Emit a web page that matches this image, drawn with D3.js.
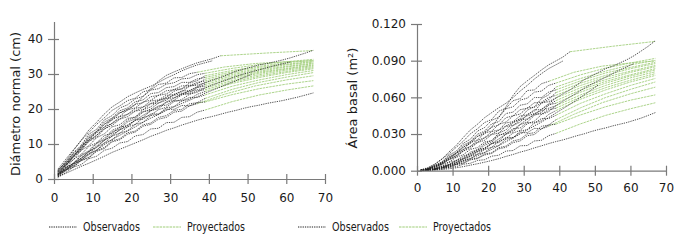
<!DOCTYPE html>
<html>
<head>
<meta charset="utf-8">
<script src="https://cdn.jsdelivr.net/npm/d3@7"></script>
<style>
  html, body { margin: 0; padding: 0; background: #fff; }
  svg { display: block; font-family: 'DejaVu Sans', Verdana, sans-serif; }
</style>
</head>
<body>
<svg id="chart" width="683" height="241"></svg>
<script>
// ages (years) at which the observed diameters were read
const obsAges = [1, 3, 5, 7, 9, 11, 13, 15, 17, 19, 21, 23, 25, 27, 29, 31, 33, 35, 37, 39,
  41, 43, 45, 47, 49, 51, 53, 55, 57, 59, 61, 63, 65, 67]

// observed diameter (cm) per tree, one value per obsAges entry
const observedDiam = [
  [1.5, 3.8, 6.5, 9.0, 11.5, 13.6, 15.6, 17.3, 18.9, 20.0, 21.3, 23.6, 25.8, 28.0, 29.6, 30.6, 31.5, 32.4, 33.2, 33.8, 34.4, 35.2],
  [2.2, 5.0, 8.1, 11.0, 14.0, 16.2, 18.6, 20.6, 22.0, 23.5, 24.6, 25.6, 26.5, 27.6, 28.8, 29.8, 30.9, 31.8, 32.6, 33.2, 33.8],
  [1.1, 2.8, 4.4, 6.0, 7.7, 9.4, 11.0, 12.7, 14.0, 15.4, 16.8, 18.2, 19.5, 20.6, 22.0, 23.1, 24.2, 25.3, 26.4, 27.5,
    28.3, 29.0, 29.9, 30.8, 31.4, 32.0, 32.6, 33.0, 33.5, 34.0, 34.6, 35.3, 36.0, 36.8],
  [1.6, 3.9, 6.2, 8.6, 10.7, 12.5, 14.3, 15.9, 17.2, 18.5, 19.5, 20.5, 21.6, 22.4, 23.1, 23.9, 24.4, 25.0, 25.5, 26.0,
    26.9, 27.7, 28.5, 29.3, 30.0, 30.6, 31.2, 31.8, 32.4, 32.9, 33.4],
  [1.0, 2.5, 3.9, 5.4, 6.9, 8.3, 9.8, 11.3, 12.5, 13.7, 14.9, 16.2, 17.4, 18.4, 19.6, 20.6, 21.6, 22.5, 23.5, 24.5,
    25.4, 26.3, 27.2, 28.1, 29.0, 29.9],
  [0.6, 1.6, 2.6, 3.6, 4.5, 5.5, 6.5, 7.6, 8.5, 9.4, 10.3, 11.2, 12.2, 13.0, 13.9, 14.6, 15.4, 16.1, 16.8, 17.4,
    17.9, 18.5, 19.1, 19.6, 20.2, 20.7, 21.1, 21.6, 22.0, 22.4, 22.9, 23.4, 24.0, 24.6],
  [1.8, 4.2, 7.5, 9.6, 12.8, 14.2, 16.9, 18.1, 20.3, 21.2, 22.9, 23.6, 25.4, 25.8, 27.1, 27.5, 28.6, 28.8, 29.8, 30.2],
  [1.2, 3.2, 4.5, 6.8, 8.1, 10.3, 11.6, 13.9, 14.8, 16.8, 17.7, 19.8, 20.6, 22.4, 23.3, 25.1, 25.8, 27.4, 28.1, 29.5],
  [2.4, 4.9, 7.3, 9.2, 12.2, 13.6, 16.3, 17.4, 19.5, 20.3, 22.1, 22.6, 24.4, 24.7, 26.1, 26.4, 27.6, 27.6, 28.6, 29.0],
  [1.5, 3.3, 4.4, 6.6, 7.8, 10.1, 11.2, 13.4, 14.3, 16.3, 17.2, 19.1, 20.0, 21.7, 22.5, 24.2, 24.9, 26.5, 27.2, 28.5],
  [1.3, 3.9, 6.9, 8.8, 11.8, 13.1, 15.7, 16.8, 18.9, 19.6, 21.3, 21.8, 23.5, 23.9, 25.2, 25.5, 26.6, 26.7, 27.6, 28.0],
  [2.0, 4.5, 6.3, 9.4, 11.0, 13.5, 14.8, 17.1, 17.9, 19.8, 20.3, 22.0, 22.5, 23.9, 24.3, 25.6, 25.7, 26.6, 26.8, 27.5],
  [0.8, 2.5, 4.6, 5.7, 7.9, 9.0, 11.1, 12.2, 14.1, 14.9, 16.8, 17.6, 19.5, 20.1, 21.9, 22.5, 24.0, 24.6, 26.1, 27.0],
  [2.6, 4.6, 6.8, 8.4, 11.2, 12.4, 14.9, 15.9, 17.8, 18.5, 20.2, 20.6, 22.3, 22.6, 23.9, 24.1, 25.2, 25.2, 26.2, 26.5],
  [1.4, 2.9, 4.0, 6.0, 7.1, 9.1, 10.2, 12.3, 13.1, 14.9, 15.6, 17.5, 18.3, 19.8, 20.5, 22.1, 22.7, 24.2, 24.8, 26.0],
  [1.1, 3.5, 6.4, 8.1, 10.8, 11.9, 14.3, 15.3, 17.1, 17.8, 19.4, 19.8, 21.5, 21.7, 23.0, 23.2, 24.3, 24.3, 25.2, 25.5],
  [0.7, 2.3, 4.3, 5.3, 7.3, 8.2, 10.3, 11.2, 13.1, 13.8, 15.6, 16.2, 18.1, 18.5, 20.3, 20.7, 22.3, 22.8, 24.2, 25.0],
  [2.1, 4.1, 5.5, 8.2, 9.5, 11.8, 12.9, 14.9, 15.5, 17.3, 17.7, 19.3, 19.6, 20.9, 21.1, 22.4, 22.3, 23.3, 23.3, 24.0],
  [1.2, 2.6, 3.5, 5.4, 6.2, 8.1, 9.0, 10.9, 11.5, 13.2, 13.7, 15.5, 16.0, 17.6, 18.1, 19.6, 19.9, 21.5, 21.8, 23.0],
  [1.0, 3.0, 5.6, 7.0, 9.3, 10.3, 12.4, 13.1, 14.8, 15.3, 16.8, 17.1, 18.6, 18.6, 19.9, 19.9, 21.0, 20.9, 21.8, 22.0],
  [0.5, 1.8, 3.4, 4.1, 5.8, 6.5, 8.2, 8.8, 10.3, 10.7, 12.3, 12.7, 14.3, 14.5, 16.1, 16.2, 17.6, 17.8, 19.1, 19.7],
  [2.8, 5.6, 8.3, 11.0, 13.3, 15.6, 17.5, 19.6, 20.9, 22.4, 23.1, 24.9, 25.5, 27.0, 27.4, 28.9, 29.0, 30.1, 30.5],
  [1.3, 2.5, 3.4, 5.2, 6.0, 7.9, 8.7, 10.6, 11.2, 12.8, 13.4, 15.1, 15.6, 17.1, 17.6, 19.1, 19.4, 20.9, 21.5]
]

// projected diameter (cm): [age, diameter] from the last observation to age 67
const projected = [
  [[43, 35.2], [55, 36.0], [67, 36.7]],
  [[39, 30.2], [46, 31.6], [53, 32.7], [60, 33.5], [67, 34.2]],
  [[39, 29.5], [46, 31.0], [53, 32.2], [60, 33.2], [67, 33.9]],
  [[39, 29.0], [46, 30.6], [53, 31.9], [60, 32.8], [67, 33.6]],
  [[39, 28.5], [46, 30.2], [53, 31.5], [60, 32.6], [67, 33.4]],
  [[39, 28.0], [46, 29.8], [53, 31.2], [60, 32.2], [67, 33.1]],
  [[39, 27.5], [46, 29.4], [53, 30.8], [60, 32.0], [67, 32.9]],
  [[39, 27.0], [46, 29.0], [53, 30.5], [60, 31.6], [67, 32.6]],
  [[39, 26.5], [46, 28.6], [53, 30.2], [60, 31.4], [67, 32.4]],
  [[39, 26.0], [46, 28.1], [53, 29.8], [60, 31.1], [67, 32.1]],
  [[39, 25.5], [46, 27.7], [53, 29.4], [60, 30.7], [67, 31.8]],
  [[39, 25.0], [46, 27.3], [53, 29.0], [60, 30.4], [67, 31.5]],
  [[39, 24.0], [46, 26.5], [53, 28.3], [60, 29.8], [67, 31.0]],
  [[39, 23.0], [46, 25.6], [53, 27.6], [60, 29.1], [67, 30.4]],
  [[39, 22.0], [46, 24.1], [53, 25.8], [60, 27.1], [67, 28.1]],
  [[39, 19.7], [46, 22.1], [53, 24.0], [60, 25.4], [67, 26.6]],
  [[37, 30.5], [44, 32.0], [52, 33.0], [60, 33.5], [67, 33.8]],
  [[37, 21.5], [44, 24.2], [52, 26.6], [60, 28.3], [67, 29.5]]
]

const xTicks = [0, 10, 20, 30, 40, 50, 60, 70]
const diamTicks = [0, 10, 20, 30, 40]
const basalTicks = [0, 0.03, 0.06, 0.09, 0.12]
const legendLabels = ['Observados', 'Proyectados']

const obsColor = '#1e1e1e'
const projColor = '#9fcd78'
const axisColor = '#7a7a7a'
const textColor = '#1a1a1a'

// basal area (m²) of a stem with diameter d (cm)
const basalArea = d => Math.PI / 4 * (d / 100) ** 2

const svg = d3.select('#chart')
svg.append('rect').attr('width', 683).attr('height', 241).attr('fill', '#fff')

function renderPanel(cfg) {
  const x = d3.scaleLinear().domain([0, 70]).range(cfg.xRange)
  const y = d3.scaleLinear().domain(cfg.yDomain).range(cfg.yRange)
  const line = d3.line().x(d => x(d[0])).y(d => y(cfg.value(d[1])))

  const g = svg.append('g')

  g.selectAll('path.proj')
    .data(projected)
    .enter()
    .append('path')
    .attr('class', 'proj')
    .attr('d', line)
    .attr('fill', 'none')
    .attr('stroke', projColor)
    .attr('stroke-width', 1)
    .attr('stroke-dasharray', '2.5,0.8')
    .attr('opacity', 0.85)

  const obsLines = observedDiam.map(ds => ds.map((d, i) => [obsAges[i], d]))

  g.selectAll('path.obs')
    .data(obsLines)
    .enter()
    .append('path')
    .attr('class', 'obs')
    .attr('d', line)
    .attr('fill', 'none')
    .attr('stroke', obsColor)
    .attr('stroke-width', 0.9)
    .attr('stroke-dasharray', '1.3,1')
    .attr('opacity', 0.85)

  const xAxis = g.append('g')
    .attr('transform', `translate(0,${cfg.yRange[0]})`)
    .call(d3.axisBottom(x).tickValues(xTicks).tickSize(5).tickSizeOuter(0).tickPadding(cfg.xPad))
  xAxis.selectAll('.tick line').attr('y1', -5).attr('y2', 5)

  const yAxis = g.append('g')
    .attr('transform', `translate(${cfg.xRange[0]},0)`)
    .call(d3.axisLeft(y).tickValues(cfg.yTicks).tickFormat(cfg.yFormat)
      .tickSize(6).tickSizeOuter(0).tickPadding(5))
  yAxis.selectAll('.tick line').attr('x1', -6).attr('x2', 5)

  g.selectAll('.domain, .tick line').attr('stroke', axisColor).attr('stroke-width', 1.2)
  g.selectAll('.tick text')
    .attr('fill', textColor)
    .attr('font-size', 12)
    .attr('font-family', "'DejaVu Sans', Verdana, sans-serif")

  g.append('text')
    .attr('transform', `translate(${cfg.titlePos[0]},${cfg.titlePos[1]}) rotate(-90)`)
    .attr('text-anchor', 'middle')
    .attr('dy', '0.35em')
    .attr('font-size', 13)
    .attr('fill', textColor)
    .text(cfg.title)

  // legend
  const lg = g.append('g').attr('font-size', 12.5).attr('fill', textColor)
  const items = [
    { label: legendLabels[0], color: obsColor, dash: '1.3,1', x0: cfg.legendX[0], w: 57 },
    { label: legendLabels[1], color: projColor, dash: '2.5,0.8', x0: cfg.legendX[1], w: 58 }
  ]
  items.forEach(it => {
    lg.append('line')
      .attr('x1', it.x0).attr('x2', it.x0 + 28)
      .attr('y1', 227).attr('y2', 227)
      .attr('stroke', it.color)
      .attr('stroke-width', 1)
      .attr('stroke-dasharray', it.dash)
    lg.append('text')
      .attr('x', it.x0 + 34)
      .attr('y', 227)
      .attr('dy', '0.35em')
      .attr('textLength', it.w)
      .attr('lengthAdjust', 'spacingAndGlyphs')
      .text(it.label)
  })
}

renderPanel({
  xRange: [54, 325],
  yDomain: [0, 45],
  yRange: [179, 21.5],
  yTicks: diamTicks,
  yFormat: d3.format('d'),
  value: d => d,
  xPad: 9,
  title: 'Diámetro normal (cm)',
  titlePos: [15, 104],
  legendX: [49, 153]
})

renderPanel({
  xRange: [417, 666],
  yDomain: [0, 0.12],
  yRange: [170.7, 24],
  yTicks: basalTicks,
  yFormat: d3.format('.3f'),
  value: basalArea,
  xPad: 7.5,
  title: 'Área basal (m²)',
  titlePos: [352, 98],
  legendX: [298, 399]
})
</script>
</body>
</html>
